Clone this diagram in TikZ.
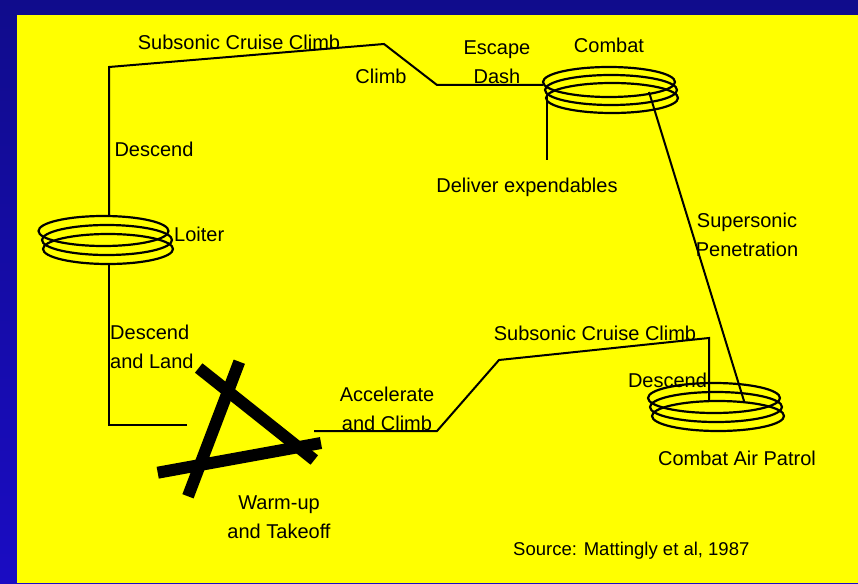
\documentclass[tikz,border=0pt]{standalone}
\usepackage{fontspec}
\setmainfont{Liberation Sans}
\definecolor{bgtop}{RGB}{16,12,140}
\definecolor{bgbot}{RGB}{26,12,195}
\definecolor{panel}{RGB}{255,255,0}
\begin{document}
\begin{tikzpicture}[x=1pt,y=-1pt,
  route/.style={line width=2pt, line join=miter},
  coil/.style={line width=2.2pt},
  bar/.style={line width=12pt},
  lbl/.style={font=\fontsize{20}{29}\selectfont, inner sep=0pt, anchor=base, align=center},
  lbll/.style={font=\fontsize{20}{29}\selectfont, inner sep=0pt, anchor=base west, align=left},
  src/.style={font=\fontsize{18.5}{22}\selectfont, inner sep=0pt, anchor=base west}]
\useasboundingbox (0,0) rectangle (858,583);
\shade[top color=bgtop, bottom color=bgbot] (0,0) rectangle (858,583);
\fill[panel] (17,15) rectangle (858,583);
% coils
\foreach \cx/\cy in {103.5/231, 107/240, 108/249}
  \draw[coil] (\cx,\cy) ellipse [x radius=65pt, y radius=15pt];
\foreach \cx/\cy in {609/82, 611/90, 612/98}
  \draw[coil] (\cx,\cy) ellipse [x radius=66pt, y radius=15pt];
\foreach \cx/\cy in {714/398, 716/407, 718/416}
  \draw[coil] (\cx,\cy) ellipse [x radius=66pt, y radius=15pt];
% route points
\coordinate (lb) at (109,425);
\coordinate (lc) at (109,265);
\coordinate (lt) at (109,216);
\coordinate (tl) at (109,67);
\coordinate (tp) at (384,44);
\coordinate (cl) at (437,85);
\coordinate (ce) at (543,85);
\coordinate (dv0) at (547,97);
\coordinate (dv1) at (547,160);
\coordinate (sp0) at (649,92);
\coordinate (sp1) at (744,401);
\coordinate (tof) at (187,425);
\coordinate (tor) at (314,431);
\coordinate (ac) at (437,431);
\coordinate (sc0) at (499,360);
\coordinate (sc1) at (709,338);
\coordinate (cd) at (709,401);
\draw[route] (lt) -- (tl) -- (tp) -- (cl) -- (ce);
\draw[route] (tof) -- (lb) -- (lc);
\draw[route] (dv0) -- (dv1);
\draw[route] (sp0) -- (sp1);
\draw[route] (tor) -- (ac) -- (sc0) -- (sc1) -- (cd);
% runway triangle
\coordinate (b1a) at (198.7,368); \coordinate (b1b) at (314.3,460);
\coordinate (b2a) at (239.3,361.7); \coordinate (b2b) at (188,496.3);
\coordinate (b3a) at (157.7,472.7); \coordinate (b3b) at (321,443);
\draw[bar] (b1a) -- (b1b);
\draw[bar] (b2a) -- (b2b);
\draw[bar] (b3a) -- (b3b);
% labels (multi-line nodes: base = last line)
\node[lbl] (l1) at (239,50) {Subsonic Cruise Climb};
\node[lbl] (l2) at (381,84) {Climb};
\node[lbl] (l3) at (497,84) {Escape\\Dash};
\node[lbl] (l4) at (609,53) {Combat};
\node[lbl] (l5) at (154,156) {Descend};
\node[lbll] (l6) at (174,241) {Loiter};
\node[lbl] (l7) at (527,192) {Deliver expendables};
\node[lbl] (l8) at (747,256) {Supersonic\\Penetration};
\node[lbll] (l9) at (110,368) {Descend\\and Land};
\node[lbl] (l10) at (387,430) {Accelerate\\and Climb};
\node[lbl] (l11) at (595,340) {Subsonic Cruise Climb};
\node[lbl] (l12) at (667.5,387) {Descend};
\node[lbl] (l13) at (737,465) {Combat Air Patrol};
\node[lbl] (l14) at (279,538) {Warm-up\\and Takeoff};
\node[src] (l15) at (513,555) {Source: Mattingly et al, 1987};
\end{tikzpicture}
\end{document}
